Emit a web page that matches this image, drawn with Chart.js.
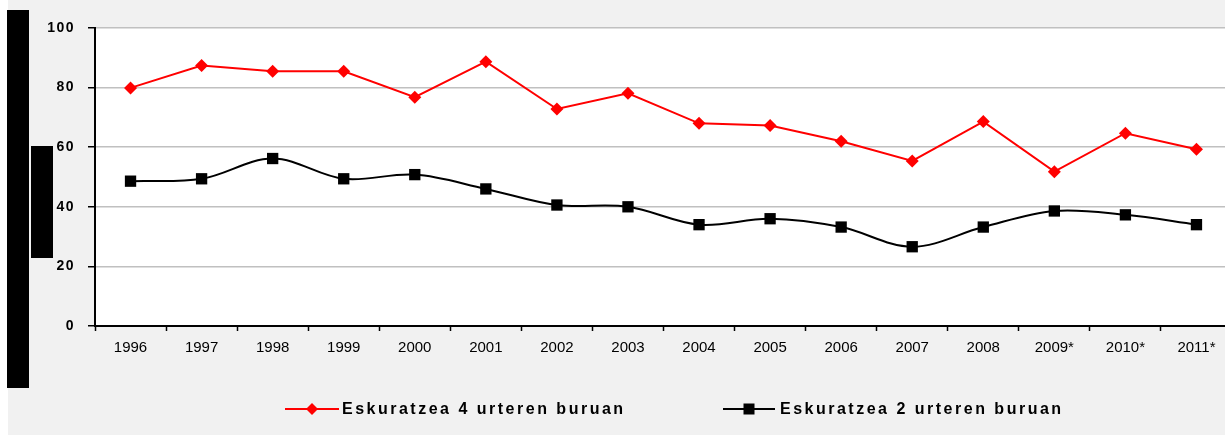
<!DOCTYPE html>
<html>
<head>
<meta charset="utf-8">
<script src="https://cdn.jsdelivr.net/npm/chart.js@4"></script>
<style>
  html, body { margin: 0; padding: 0; background: #ffffff; overflow: hidden; width: 1225px; height: 435px; }
  #panel { position: absolute; left: 8px; top: 0; width: 1240px; height: 435px; background: #f1f1f1; }
  #wrap { position: absolute; left: 0; top: 0; width: 1240px; height: 432px; }
  .blk { position: absolute; background: #000; }
  .leg { position: absolute; top: 400px; height: 18px; font-family: "Liberation Sans", Arial, sans-serif; font-weight: bold; font-size: 16px; letter-spacing: 2.5px; color: #000; line-height: 18px; white-space: nowrap; }
  .leg svg { position: absolute; top: 0; }
  .leg span { position: absolute; top: 0; }
</style>
</head>
<body>
<div id="panel"></div>
<div class="blk" style="left:7px;top:10px;width:22px;height:378px;"></div>
<div class="blk" style="left:31px;top:146px;width:22px;height:112px;"></div>
<div id="wrap"><canvas id="c" width="1240" height="432"></canvas></div>
<div class="leg" style="left:285px;">
  <svg width="56" height="18" style="left:0"><line x1="0" y1="9" x2="54" y2="9" stroke="#ff0000" stroke-width="2"/><polygon points="27,3 33,9 27,15 21,9" fill="#ff0000"/></svg>
  <span id="leg1" style="left:57px"></span>
</div>
<div class="leg" style="left:723px;">
  <svg width="56" height="18" style="left:0"><line x1="0" y1="9" x2="52" y2="9" stroke="#000" stroke-width="2"/><rect x="20.5" y="3.5" width="11" height="11" fill="#000"/></svg>
  <span id="leg2" style="left:57px"></span>
</div>
<script>
const categories = ['1996','1997','1998','1999','2000','2001','2002','2003','2004','2005','2006','2007','2008','2009*','2010*','2011*'];
const series4Name = 'Eskuratzea 4 urteren buruan';
const series2Name = 'Eskuratzea 2 urteren buruan';
const series4 = [79.9, 87.4, 85.5, 85.5, 76.8, 88.7, 72.8, 78.1, 68.0, 67.3, 62.0, 55.4, 68.6, 51.8, 64.7, 59.3];
const series2 = [48.6, 49.4, 56.2, 49.4, 50.8, 46.0, 40.6, 40.0, 34.0, 36.0, 33.2, 26.6, 33.2, 38.6, 37.3, 34.0];
const yTicks = [0, 20, 40, 60, 80, 100];

document.getElementById('leg1').textContent = series4Name;
document.getElementById('leg2').textContent = series2Name;

const FONT = '"Liberation Sans", Arial, sans-serif';

const plotBg = {
  id: 'plotBg',
  beforeDraw(chart) {
    const { ctx, chartArea: a } = chart;
    ctx.save();
    ctx.fillStyle = '#ffffff';
    ctx.fillRect(a.left, a.top, a.right - a.left, a.bottom - a.top);
    ctx.restore();
    const s = chart.scales.y;
    if (s && !s._lsWrapped) {
      const orig = s.drawLabels;
      s.drawLabels = function (ca) {
        const c = this.ctx; const prev = c.letterSpacing;
        c.letterSpacing = '1.5px';
        orig.call(this, ca);
        c.letterSpacing = prev;
      };
      s._lsWrapped = true;
    }
  }
};

new Chart(document.getElementById('c'), {
  type: 'line',
  data: {
    labels: categories,
    datasets: [
      {
        label: series4Name,
        data: series4,
        borderColor: '#ff0000',
        backgroundColor: '#ff0000',
        borderWidth: 2,
        pointStyle: 'rectRot',
        pointRadius: 6.5,
        pointBorderWidth: 0,
        tension: 0,
        fill: false
      },
      {
        label: series2Name,
        data: series2,
        borderColor: '#000000',
        backgroundColor: '#000000',
        borderWidth: 2,
        pointStyle: 'rect',
        pointRadius: 8,
        pointBorderWidth: 0,
        tension: 0.35,
        fill: false
      }
    ]
  },
  options: {
    responsive: false,
    animation: false,
    layout: { padding: { left: 0, right: 8, top: 28, bottom: 0 } },
    plugins: { legend: { display: false }, tooltip: { enabled: false } },
    scales: {
      x: {
        type: 'category',
        offset: true,
        grid: { display: true, drawOnChartArea: false, offset: true, tickColor: '#000', tickLength: 5, tickWidth: 1.5 },
        border: { color: '#000', width: 2 },
        ticks: { color: '#000', font: { family: FONT, size: 15 }, padding: 8, maxRotation: 0, autoSkip: false },
        afterFit(scale) { scale.height = 106; }
      },
      y: {
        min: 0, max: 100,
        afterBuildTicks(scale) { scale.ticks = yTicks.map(v => ({ value: v })); },
        grid: { color: '#c0c0c0', lineWidth: 1.5, tickColor: '#000', tickLength: 7, tickWidth: 1.5 },
        border: { color: '#000', width: 2 },
        ticks: { color: '#000', font: { family: FONT, size: 14, weight: 'bold' }, padding: 13 },
        afterFit(scale) { scale.width = 95; }
      }
    }
  },
  plugins: [plotBg]
});
</script>
</body>
</html>
